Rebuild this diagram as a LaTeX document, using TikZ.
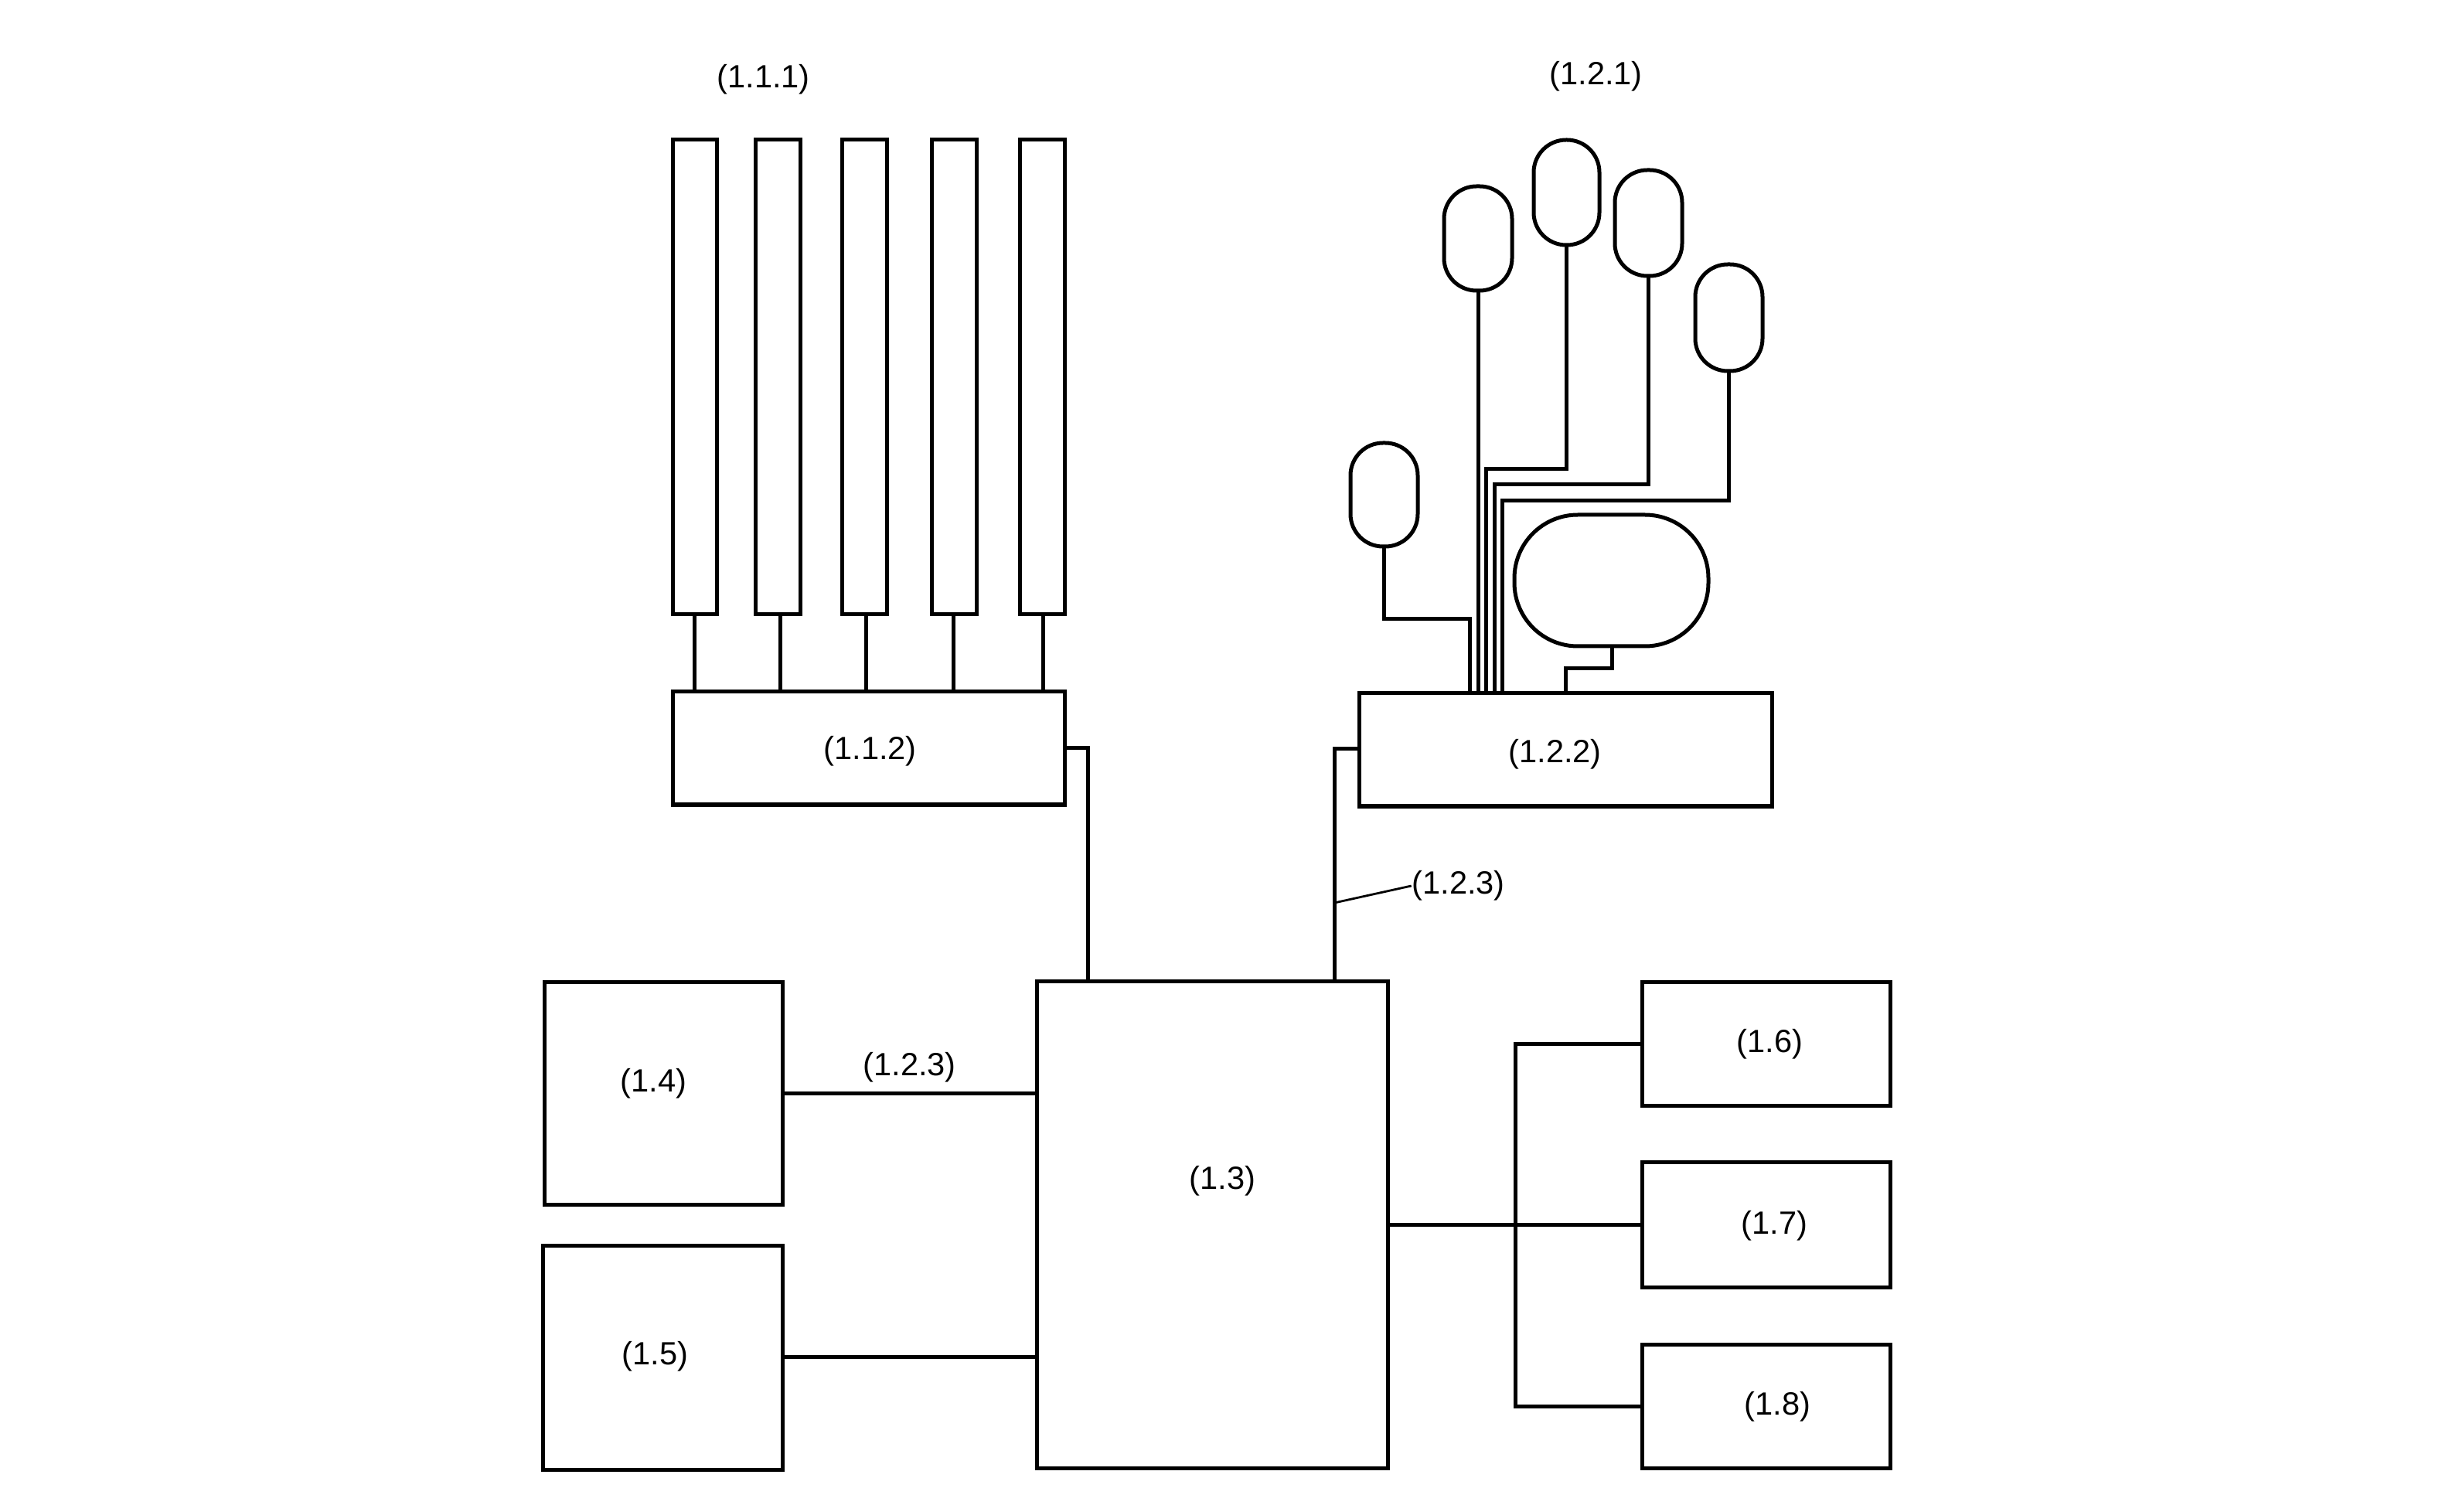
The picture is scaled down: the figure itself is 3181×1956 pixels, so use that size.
\documentclass[tikz,border=0pt]{standalone}
\usepackage{fontspec}
\setmainfont{Liberation Sans}
\tikzset{
  px/.style={x=0.25pt,y=-0.25pt},
  box/.style={draw,line width=1.25pt,rectangle,inner sep=0pt},
  pad/.style={draw,line width=1.25pt,rectangle,inner sep=0pt,rounded corners=10.5pt},
  wire/.style={line width=1.25pt,line join=miter},
  lbl/.style={inner sep=0pt,xshift=0.4pt,yshift=-1pt,font=\fontsize{10.4}{12}\selectfont}
}
\newcommand{\rectnode}[6][box]{%
  \node[#1,minimum width=(#5-#3)*0.25pt,minimum height=(#6-#4)*0.25pt] (#2) at ({(#3+#5)/2},{(#4+#6)/2}) {};}
\begin{document}
\begin{tikzpicture}[px]
\useasboundingbox (0,0) rectangle (3181,1956);
% sensor bars
\rectnode{b1}{870}{181}{927}{795}
\rectnode{b2}{977}{181}{1035}{795}
\rectnode{b3}{1089}{181}{1147}{795}
\rectnode{b4}{1205}{181}{1263}{795}
\rectnode{b5}{1319}{181}{1377}{795}
\rectnode{ctlA}{870}{895}{1377}{1041}
% glove
\rectnode[pad]{thumb}{1747}{573}{1834}{707}
\rectnode[pad]{fingB}{1868}{241}{1956}{376}
\rectnode[pad]{fingC}{1984}{181}{2069}{317}
\rectnode[pad]{fingD}{2089}{220}{2176}{357}
\rectnode[pad]{fingE}{2193}{342}{2280}{480}
\rectnode[pad,rounded corners=20.5pt]{palm}{1959}{666}{2210}{836}
\rectnode{ctlB}{1758}{897}{2292}{1043}
% lower blocks
\rectnode{main}{1341}{1269}{1795}{1899}
\rectnode{bfour}{704}{1270}{1012}{1558}
\rectnode{bfive}{702}{1611}{1012}{1901}
\rectnode{bsix}{2124}{1270}{2445}{1430}
\rectnode{bseven}{2124}{1503}{2445}{1665}
\rectnode{beight}{2124}{1739}{2445}{1899}
% labels
\node[lbl] (l111) at (986,99) {(1.1.1)};
\node[lbl] (l121) at (2063,95) {(1.2.1)};
\node[lbl] (l112) at (1124,968) {(1.1.2)};
\node[lbl] (l122) at (2010,972) {(1.2.2)};
\node[lbl] (l123a) at (1885,1142) {(1.2.3)};
\node[lbl] (l123b) at (1175,1377) {(1.2.3)};
\node[lbl] (l14) at (844,1398) {(1.4)};
\node[lbl] (l15) at (846,1751) {(1.5)};
\node[lbl] (l13) at (1580,1524) {(1.3)};
\node[lbl] (l16) at (2288,1347) {(1.6)};
\node[lbl] (l17) at (2294,1582) {(1.7)};
\node[lbl] (l18) at (2298,1816) {(1.8)};
% bar wires
\foreach \n/\x in {b1/898,b2/1009,b3/1120,b4/1233,b5/1349}
  \draw[wire] (\n.south -| \x,0) -- (ctlA.north -| \x,0);
% glove wires
\coordinate (tA) at (1901,801);
\coordinate (tC) at (1922,607);
\coordinate (tD) at (1933,627);
\coordinate (tE) at (1943,648);
\coordinate (tP) at (2025,865);
\draw[wire] (thumb.south) |- (tA) -- (tA |- ctlB.north);
\draw[wire] (fingB.south) -- (fingB.south |- ctlB.north);
\draw[wire] (fingC.south) |- (tC) -- (tC |- ctlB.north);
\draw[wire] (fingD.south) |- (tD) -- (tD |- ctlB.north);
\draw[wire] (fingE.south) |- (tE) -- (tE |- ctlB.north);
\draw[wire] (2085,836 |- palm.south) |- (tP) -- (tP |- ctlB.north);
% links to main
\coordinate (ja) at (1407,968);
\coordinate (jb) at (1726,969);
\draw[wire] (ctlA.east |- ja) -- (ja) -- (ja |- main.north);
\draw[wire] (ctlB.west |- jb) -- (jb) -- (jb |- main.north);
\coordinate (lead) at (1726,1168);
\draw[line width=0.7pt] (lead) -- (l123a.west);
\draw[wire] (bfour.east |- 0,1414) -- (main.west |- 0,1414);
\draw[wire] (bfive.east |- 0,1755) -- (main.west |- 0,1755);
\draw[wire] (main.east |- bseven.west) -- (bseven.west);
\coordinate (tr) at (1960,1585);
\draw[wire] (bsix.west) -| (tr) |- (beight.west);
\end{tikzpicture}
\end{document}
